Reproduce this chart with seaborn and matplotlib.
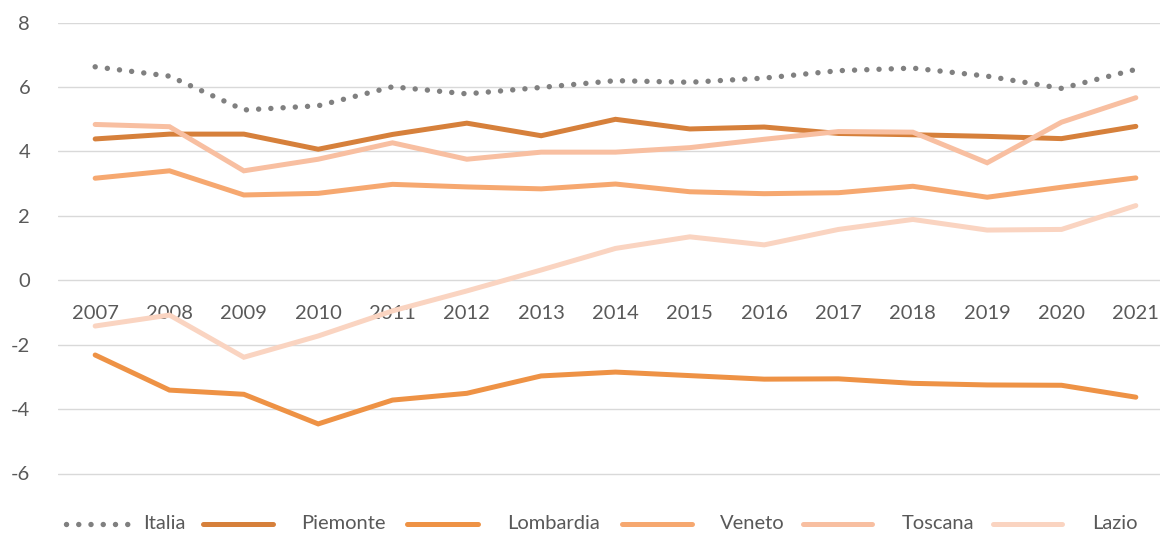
import numpy as np
import pandas as pd
import matplotlib
matplotlib.use("Agg")
import matplotlib.pyplot as plt
from matplotlib.lines import Line2D
import seaborn as sns

years = list(range(2007, 2022))
italia    = [6.63, 6.34, 5.29, 5.42, 6.01, 5.79, 5.99, 6.20, 6.15, 6.28, 6.51, 6.59, 6.34, 5.96, 6.55]
piemonte  = [4.39, 4.54, 4.54, 4.07, 4.53, 4.88, 4.49, 5.00, 4.70, 4.76, 4.56, 4.52, 4.47, 4.40, 4.78]
lombardia = [-2.32, -3.41, -3.54, -4.46, -3.72, -3.51, -2.97, -2.85, -2.96, -3.07, -3.06, -3.20, -3.25, -3.26, -3.63]
veneto    = [3.17, 3.40, 2.65, 2.70, 2.98, 2.90, 2.84, 2.99, 2.75, 2.69, 2.72, 2.92, 2.58, 2.89, 3.18]
toscana   = [4.84, 4.77, 3.40, 3.76, 4.27, 3.76, 3.98, 3.98, 4.12, 4.38, 4.62, 4.60, 3.65, 4.91, 5.67]
lazio     = [-1.42, -1.08, -2.39, -1.73, -0.95, -0.33, 0.32, 0.99, 1.35, 1.10, 1.58, 1.89, 1.56, 1.58, 2.32]

names = ["Italia", "Piemonte", "Lombardia", "Veneto", "Toscana", "Lazio"]
series = [italia, piemonte, lombardia, veneto, toscana, lazio]
colors = ["#808080", "#D6803B", "#EE9245", "#F6A870", "#F8BFA1", "#FAD4C1"]
yticks = [-6, -4, -2, 0, 2, 4, 6, 8]

sns.set_theme(style="white")
plt.rcParams["font.family"] = ["Lato", "DejaVu Sans"]
TXT = "#595959"
FS = 14.5

W, H = 1160, 533
fig = plt.figure(figsize=(W / 100, H / 100), dpi=100)
px_left, px_right = 58, 1173
px_top, px_bottom = 22.7, 505.7
ax = fig.add_axes([px_left / W, (H - px_bottom) / H,
                   (px_right - px_left) / W, (px_bottom - px_top) / H])

lw = 3.6
dot_style = (0, (0.01, 2.45))
for name, vals, col in zip(names, series, colors):
    df = pd.DataFrame({"year": years, "value": vals})
    if name == "Italia":
        sns.lineplot(data=df, x="year", y="value", ax=ax, color=col, lw=lw + 0.3,
                     linestyle=(0, (0.01, 2.25)), dash_capstyle="round", zorder=3)
    else:
        sns.lineplot(data=df, x="year", y="value", ax=ax, color=col, lw=lw,
                     solid_capstyle="round", solid_joinstyle="miter", zorder=3)

ax.set_xlim(2006.5, 2021.5)
ax.set_ylim(-7, 8)
ax.set_yticks(yticks)
ax.set_yticklabels([str(v) for v in yticks])
ax.set_xticks(years)
ax.set_xticklabels([str(y) for y in years])
ax.set_xlabel("")
ax.set_ylabel("")
for s in ax.spines.values():
    s.set_visible(False)
ax.spines["bottom"].set_position(("data", 0))
ax.grid(axis="y", color="#D9D9D9", lw=1.0, zorder=0)
ax.grid(axis="x", visible=False)
ax.set_axisbelow(True)
ax.tick_params(axis="y", length=0, pad=20, labelsize=FS, labelcolor=TXT)
ax.tick_params(axis="x", length=0, pad=18, labelsize=FS, labelcolor=TXT)
if ax.get_legend():
    ax.get_legend().remove()

# legend (manual, Excel style)
leg_y = 523.5
entries = [(66, 132, 143), (203, 273, 301), (407, 478, 507),
           (622, 692, 720), (803, 872, 902), (993, 1062, 1092)]
for (x0, x1, tx), name, col in zip(entries, names, colors):
    yy = (H - leg_y) / H
    if name == "Italia":
        ln = Line2D([x0 / W, x1 / W], [yy, yy], transform=fig.transFigure, color=col,
                    lw=lw + 0.3, linestyle=(0, (0.01, 2.25)), dash_capstyle="round")
    else:
        ln = Line2D([x0 / W, x1 / W], [yy, yy], transform=fig.transFigure, color=col,
                    lw=lw, solid_capstyle="round")
    fig.add_artist(ln)
    fig.text(tx / W, yy, name, ha="left", va="center", fontsize=FS, color=TXT)

fig.savefig("out.png", dpi=100)
